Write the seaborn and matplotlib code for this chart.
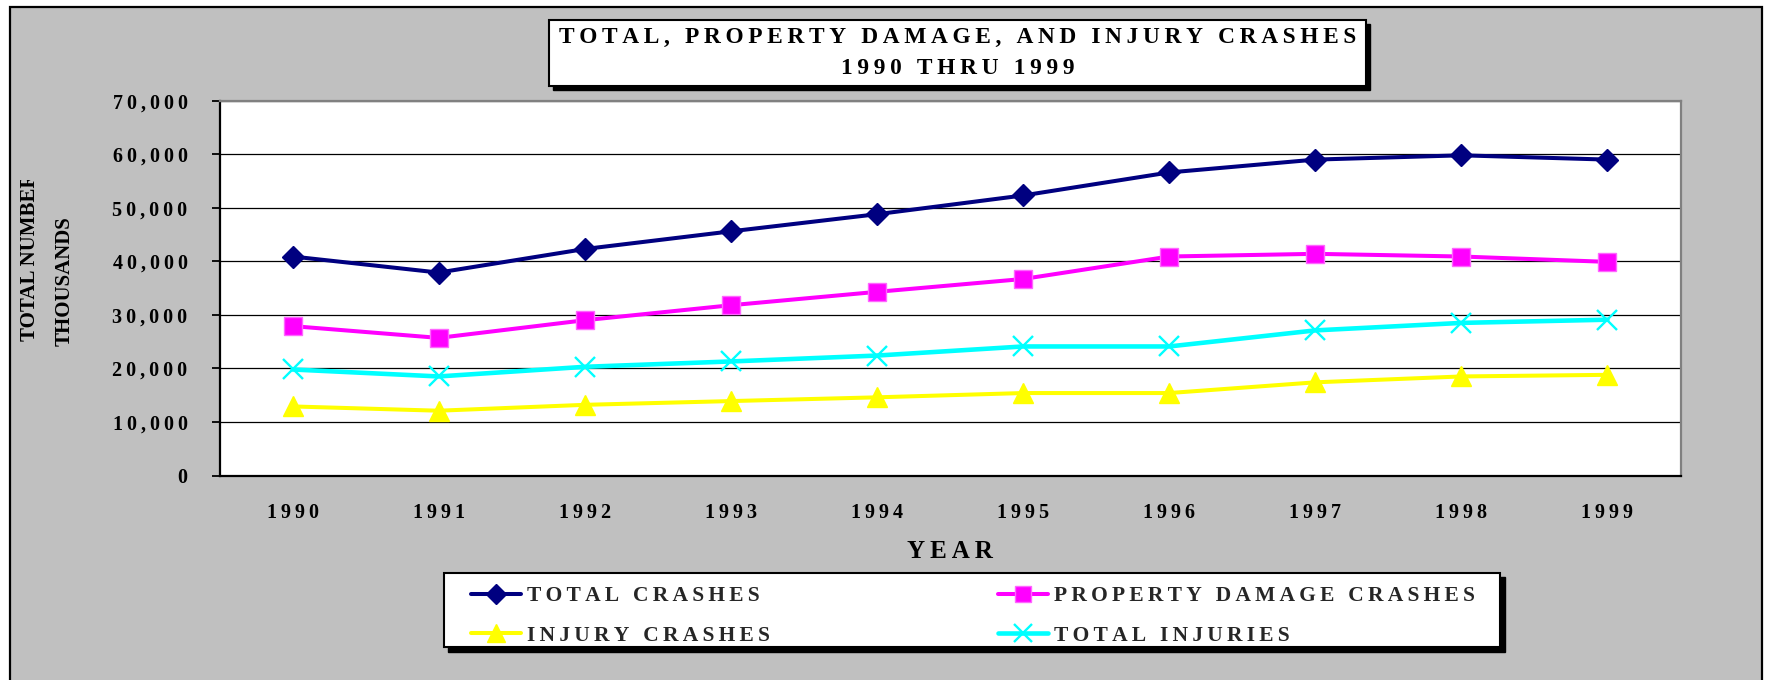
import matplotlib
matplotlib.use("Agg")
import matplotlib.pyplot as plt
import seaborn as sns
import pandas as pd
from matplotlib.patches import Rectangle
from matplotlib.transforms import Bbox

# ---------------- data ----------------
years = [1990, 1991, 1992, 1993, 1994, 1995, 1996, 1997, 1998, 1999]
total_crashes = [40900, 37900, 42300, 45600, 48800, 52300, 56600, 59000, 59800, 59000]
property_damage_crashes = [27900, 25700, 29000, 31800, 34300, 36700, 40900, 41400, 40900, 39900]
injury_crashes = [12900, 12100, 13200, 13900, 14600, 15400, 15400, 17400, 18500, 18800]
total_injuries = [19800, 18500, 20300, 21300, 22400, 24100, 24100, 27100, 28500, 29100]
series_names = ["TOTAL CRASHES", "PROPERTY DAMAGE CRASHES", "INJURY CRASHES", "TOTAL INJURIES"]
y_ticks = [0, 10000, 20000, 30000, 40000, 50000, 60000, 70000]
title_lines = ["TOTAL, PROPERTY DAMAGE, AND INJURY CRASHES", "1990 THRU 1999"]
x_label = "YEAR"
y_label_lines = ["TOTAL NUMBER", "THOUSANDS"]

# ---------------- style ----------------
sns.set_theme(style="white")
plt.rcParams["font.family"] = ["Liberation Serif", "DejaVu Serif"]
plt.rcParams["font.weight"] = "bold"

W, H = 1766, 680
fig = plt.figure(figsize=(W / 100, H / 100), dpi=100)
fig.patch.set_facecolor("white")


def fx(px):
    return px / W


def fy(py):
    return 1 - py / H


def spaced(s):
    return "\u2009".join(s)


def frect(x0, y0, x1, y1, **kw):
    r = Rectangle((fx(x0), fy(y1)), fx(x1) - fx(x0), fy(y0) - fy(y1),
                  transform=fig.transFigure, **kw)
    fig.patches.append(r)
    return r


# chart area background with border
frect(10, 7, 1762, 700, facecolor="#C0C0C0", edgecolor="black", lw=1.6, zorder=-5)

# ---------------- axes ----------------
ax = fig.add_axes([fx(219.5), fy(475.5), fx(1680.5) - fx(219.5), fy(100.7) - fy(475.5)])
ax.set_zorder(1)
ax.set_facecolor("white")

df = pd.DataFrame({
    "YEAR": years * 4,
    "VALUE": total_crashes + property_damage_crashes + injury_crashes + total_injuries,
    "SERIES": [n for n in series_names for _ in years],
})

styles = {
    "TOTAL CRASHES": dict(color="#000080", marker="D", markersize=11.5, mec="#000080", mew=1, lw=2.9),
    "PROPERTY DAMAGE CRASHES": dict(color="#FF00FF", marker="s", markersize=13.5, mec="#FF66FF", mew=1, lw=2.9),
    "INJURY CRASHES": dict(color="#FFFF00", marker="^", markersize=15, mec="#FFFF00", mew=1, lw=2.9),
    "TOTAL INJURIES": dict(color="#00FFFF", marker="x", markersize=15, mec="#00FFFF", mew=1.7, lw=3.3),
}

for name in series_names:
    sub = df[df["SERIES"] == name]
    st = styles[name]
    sns.lineplot(data=sub, x="YEAR", y="VALUE", ax=ax, color=st["color"], marker=st["marker"],
                 markersize=st["markersize"], markeredgecolor=st["mec"], markeredgewidth=st["mew"],
                 linewidth=st["lw"], label=spaced(name), legend=False, zorder=3)

ax.set_xlim(years[0] - 0.5, years[-1] + 0.5)
ax.set_ylim(0, 70000)
ax.set_yticks(y_ticks)
ax.set_yticklabels([spaced(f"{v:,}") for v in y_ticks])
ax.set_xticks(years)
ax.set_xticklabels([spaced(str(y)) for y in years])
ax.tick_params(axis="y", direction="out", length=6, width=1.3, color="black", pad=17,
               labelsize=14.5, left=True)
ax.tick_params(axis="x", length=0, pad=20, labelsize=14.5)
for lab in ax.get_xticklabels() + ax.get_yticklabels():
    lab.set_fontweight("bold")
    lab.set_color("black")

ax.yaxis.grid(True, color="black", lw=0.9)
ax.xaxis.grid(False)
ax.set_axisbelow(True)
for s in ["left", "bottom"]:
    ax.spines[s].set_color("black")
    ax.spines[s].set_linewidth(1.6)
for s in ["top", "right"]:
    ax.spines[s].set_color("#808080")
    ax.spines[s].set_linewidth(1.6)

ax.set_xlabel(spaced(x_label), fontsize=18, fontweight="bold", color="black", va="center")
ax.xaxis.set_label_coords(0.5, (475.5 - 552) / (475.5 - 100.7))
ax.set_ylabel("")

# y-axis label (two lines, first line clipped like the original)
t1 = fig.text(fx(30), fy(341), y_label_lines[0], rotation=90, ha="center", va="bottom",
              fontsize=15, fontweight="bold", color="black")
t1.set_clip_box(Bbox.from_extents(0, 0, 200, H - 180))
t1.set_clip_on(True)
fig.text(fx(65), fy(346), y_label_lines[1], rotation=90, ha="center", va="bottom",
         fontsize=15, fontweight="bold", color="black")

# ---------------- title box ----------------
frect(553, 24, 1370, 90, facecolor="black", edgecolor="black", lw=1, zorder=1)
frect(549, 20, 1366, 86, facecolor="white", edgecolor="black", lw=1.5, zorder=2)
fig.text(fx(957.5), fy(37.5), spaced(title_lines[0]), ha="center", va="center",
         fontsize=16.8, fontweight="bold", color="black", zorder=3)
fig.text(fx(957.5), fy(69), spaced(title_lines[1]), ha="center", va="center",
         fontsize=16.8, fontweight="bold", color="black", zorder=3)

# ---------------- legend box ----------------
frect(448, 577, 1505, 652, facecolor="black", edgecolor="black", lw=1, zorder=1)
frect(444, 573, 1500, 647, facecolor="white", edgecolor="black", lw=1.5, zorder=2)
handles, labels = ax.get_legend_handles_labels()
order = [0, 2, 1, 3]
leg = fig.legend([handles[i] for i in order], [labels[i] for i in order], ncol=2,
                 loc="upper left", bbox_to_anchor=(fx(456), fy(571)), frameon=False,
                 prop={"family": ["Liberation Serif", "DejaVu Serif"], "weight": "bold", "size": 15.5},
                 handlelength=2.3, handletextpad=0.3, columnspacing=10.6, labelspacing=0.9,
                 borderpad=0.2, markerscale=0.85)
leg.set_zorder(5)

fig.savefig("out.png", dpi=100, facecolor=fig.get_facecolor())
